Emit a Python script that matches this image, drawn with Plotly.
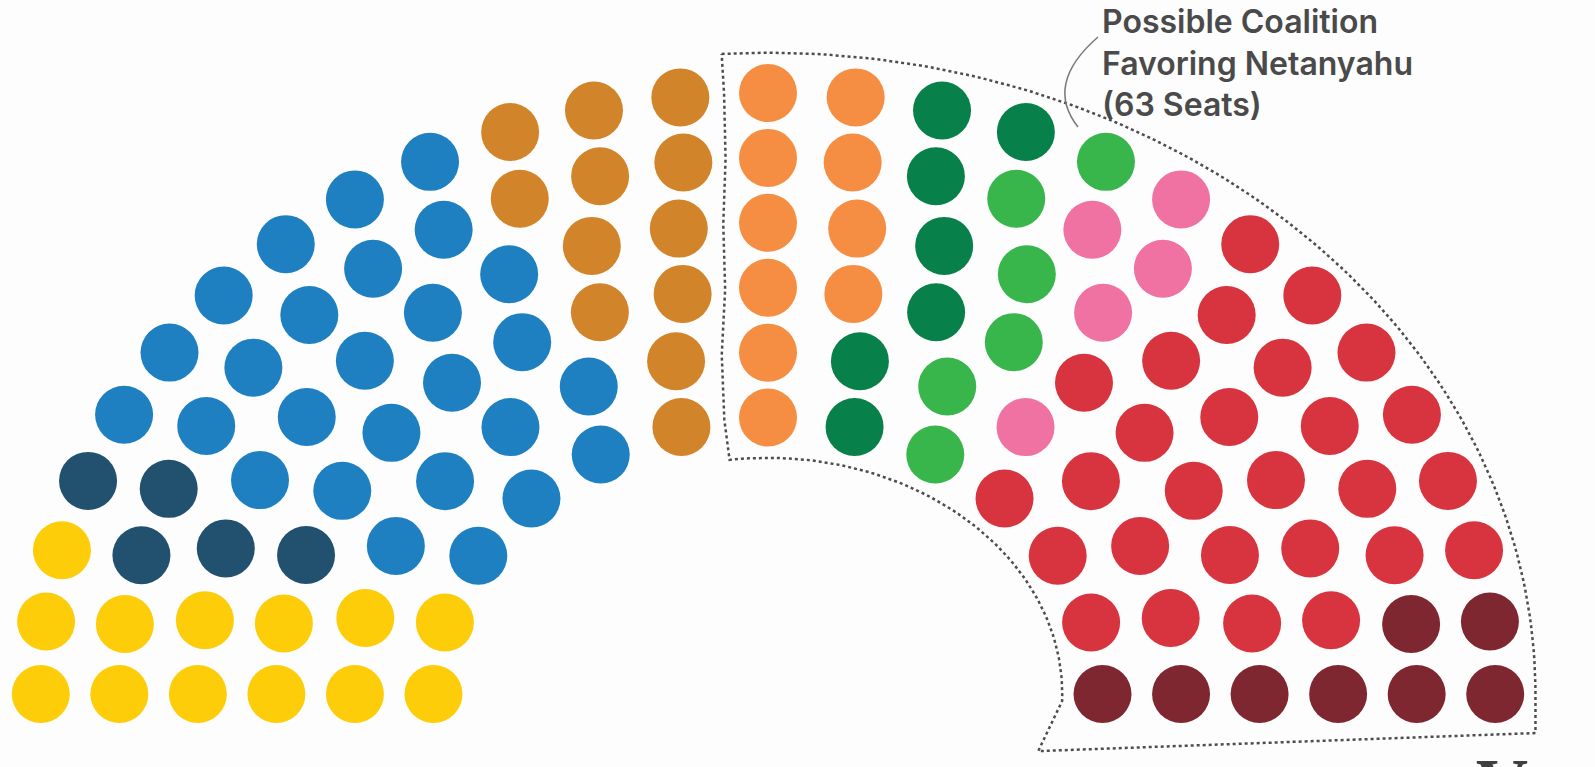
import numpy as np
import plotly.graph_objects as go

# ---- data (Channel 1 exit poll, Israel 2015) ----
parties = ["Joint List", "Meretz", "Zionist Union", "Yesh Atid", "Kulanu",
           "Shas", "United Torah Judaism", "Yisrael Beiteinu", "Likud", "Jewish Home"]
seats = [13, 5, 27, 12, 10, 7, 6, 5, 27, 8]
colors = ["#FDCD0A", "#22506F", "#1E80C1", "#D2842A", "#F58E42",
          "#08804A", "#38B64C", "#EF72A3", "#D8343F", "#7E2731"]
in_coalition = [False, False, False, False, True, True, True, True, True, True]
row_seats = [13, 15, 19, 21, 25, 27]  # inner row -> outer row

# ---- geometry ----
R_IN, R_OUT = 0.46, 1.0
STRETCH = 1.21
PAD = 0.067
radii = np.linspace(R_IN, R_OUT, len(row_seats))

slots = []
for k, (n, r) in enumerate(zip(row_seats, radii)):
    for j in range(n):
        th = np.pi * (1 - j / (n - 1))
        slots.append((round(th, 9), r, k))
slots.sort(key=lambda s: (-s[0], s[1]))

owner = []
for i, s in enumerate(seats):
    owner += [i] * s

fig = go.Figure()

# coalition boundary (derived from seat layout)
phi = []
for k in range(len(row_seats)):
    opp = [s[0] for s, o in zip(slots, owner) if s[2] == k and not in_coalition[o]]
    coa = [s[0] for s, o in zip(slots, owner) if s[2] == k and in_coalition[o]]
    phi.append((min(opp) + max(coa)) / 2)

ao, bo = STRETCH * R_OUT + PAD, R_OUT + PAD
ai, bi = STRETCH * R_IN - PAD, R_IN - PAD
bx, by = [], []
for t in np.linspace(phi[-1], 0, 120):
    bx.append(ao * np.cos(t)); by.append(bo * np.sin(t))
bx += [ao, ai - 0.04]
by += [-0.065, -0.095]
for t in np.linspace(-0.03, phi[0], 80):
    bx.append(ai * np.cos(t)); by.append(bi * np.sin(t))
for k in range(len(row_seats)):
    bx.append(STRETCH * radii[k] * np.cos(phi[k])); by.append(radii[k] * np.sin(phi[k]))
bx.append(ao * np.cos(phi[-1])); by.append(bo * np.sin(phi[-1]))

fig.add_trace(go.Scatter(x=bx, y=by, mode="lines", hoverinfo="skip",
                         line=dict(color="#4d4d4d", width=2.5, dash="dot"),
                         showlegend=False))

for i, (p, c) in enumerate(zip(parties, colors)):
    xs = [STRETCH * s[1] * np.cos(s[0]) for s, o in zip(slots, owner) if o == i]
    ys = [s[1] * np.sin(s[0]) for s, o in zip(slots, owner) if o == i]
    fig.add_trace(go.Scatter(x=xs, y=ys, mode="markers", name=p,
                             marker=dict(size=58, color=c, line=dict(width=0)),
                             hovertemplate=p + "<extra></extra>"))

W, H = 1595, 767
U = 601.0
CY = 694
fig.update_xaxes(range=[-768 / U, (W - 768) / U], visible=False, fixedrange=True)
fig.update_yaxes(range=[-(H - CY) / U, CY / U], visible=False, fixedrange=True)

fig.add_annotation(xref="paper", yref="paper", x=1100 / W, y=1 - 0 / H,
                   xanchor="left", yanchor="top", showarrow=False, align="left",
                   text="Possible Coalition<br>Favoring Netanyahu<br>(63 Seats)",
                   font=dict(family="Inter", size=32, color="#4a4a4a", weight=600))

fig.add_shape(type="path", xref="paper", yref="paper",
              path=f"M {1098/W},{1-37/H} Q {1044/W},{1-84/H} {1078/W},{1-127/H}",
              line=dict(color="#7a7a7a", width=1.5))

fig.add_annotation(xref="paper", yref="paper", x=1474 / W, y=1 - 742 / H,
                   xanchor="left", yanchor="top", showarrow=False, text="<b>Vox</b>",
                   font=dict(family="Liberation Serif", size=72, color="#404040"))

fig.update_layout(width=W, height=H, margin=dict(l=0, r=0, t=0, b=0),
                  paper_bgcolor="#fdfdfd", plot_bgcolor="#fdfdfd", showlegend=False)

fig.write_html("out.html", config={"displayModeBar": False},
               post_script="document.body.style.margin='0';document.body.style.overflow='hidden';")
